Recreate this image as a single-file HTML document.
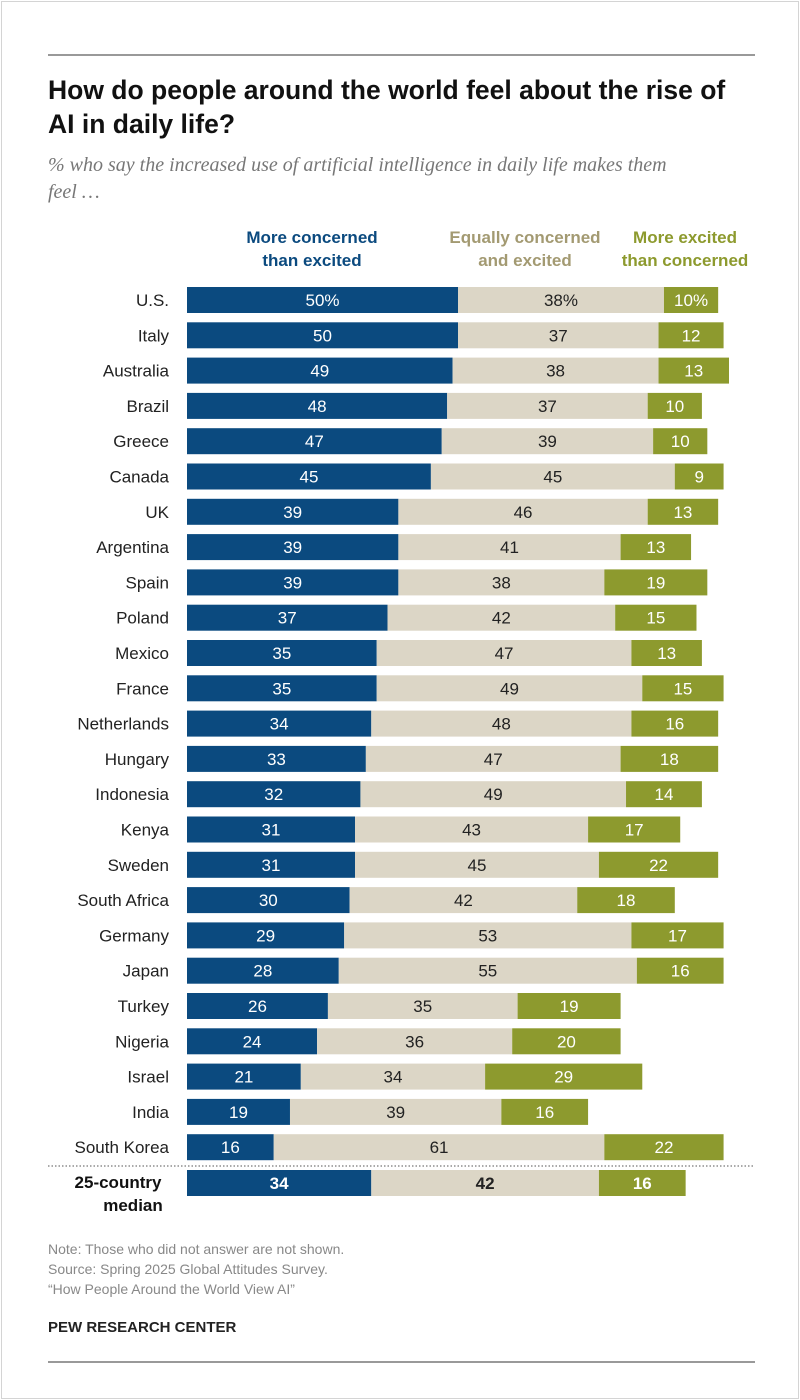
<!DOCTYPE html>
<html><head><meta charset="utf-8"><style>
body{margin:0;width:800px;height:1400px;background:#fff;font-family:"Liberation Sans",sans-serif;position:relative;overflow:hidden}
.frame{position:absolute;left:1px;top:1px;width:796px;height:1396px;border:1px solid #d4d4d4}
.rule{position:absolute;left:48px;width:707px;height:2px;background:#999}
#title{position:absolute;left:48px;top:73px;width:740px;font-weight:bold;font-size:26.5px;line-height:34px;color:#111}
#sub{position:absolute;left:48px;top:152px;width:740px;font-family:"Liberation Serif",serif;font-style:italic;font-size:20px;line-height:27px;color:#777}
.leg{position:absolute;font-weight:bold;font-size:17px;line-height:23px;text-align:center}
.foot{position:absolute;left:48px;font-size:14px;color:#888;line-height:20px}
</style></head><body>
<div class="frame"></div>
<div class="rule" style="top:54px"></div>
<div id="title">How do people around the world feel about the rise of<br>AI in daily life?</div>
<div id="sub">% who say the increased use of artificial intelligence in daily life makes them<br>feel …</div>
<div class="leg" style="left:222px;top:226px;width:180px;color:#0b4a7f">More concerned<br>than excited</div>
<div class="leg" style="left:435px;top:226px;width:180px;color:#a39a72">Equally concerned<br>and excited</div>
<div class="leg" style="left:605px;top:226px;width:160px;color:#8d9a2e">More excited<br>than concerned</div>
<svg id="chart" width="800" height="1400" style="position:absolute;left:0;top:0"></svg>
<div class="foot" style="top:1239px">Note: Those who did not answer are not shown.<br>Source: Spring 2025 Global Attitudes Survey.<br>“How People Around the World View AI”</div>
<div class="foot" style="top:1318px;color:#222;font-weight:bold;font-size:15px">PEW RESEARCH CENTER</div>
<div class="rule" style="top:1361px"></div>
<script>
const countries=["U.S.","Italy","Australia","Brazil","Greece","Canada","UK","Argentina","Spain","Poland","Mexico","France","Netherlands","Hungary","Indonesia","Kenya","Sweden","South Africa","Germany","Japan","Turkey","Nigeria","Israel","India","South Korea"];
const concerned=[50,50,49,48,47,45,39,39,39,37,35,35,34,33,32,31,31,30,29,28,26,24,21,19,16];
const equally=[38,37,38,37,39,45,46,41,38,42,47,49,48,47,49,43,45,42,53,55,35,36,34,39,61];
const excited=[10,12,13,10,10,9,13,13,19,15,13,15,16,18,14,17,22,18,17,16,19,20,29,16,22];
const median=[34,42,16];
const NS="http://www.w3.org/2000/svg",svg=document.getElementById('chart');
const x0=187,sc=5.42;
const xs=v=>x0+v*sc;
const ys=i=>300+i*35.3;
const cols=["#0b4a7f","#dcd6c6","#8d9a2e"],tcols=["#fff","#222","#fff"];
function txt(x,y,s,anchor,fill,bold,name){const t=document.createElementNS(NS,'text');t.setAttribute('x',x);t.setAttribute('y',y);t.setAttribute('text-anchor',anchor);t.setAttribute('fill',fill);t.setAttribute('font-size','17');t.setAttribute('font-family','"Liberation Sans",sans-serif');if(bold)t.setAttribute('font-weight','bold');t.textContent=s;


svg.appendChild(t);return t;}
function row(vals,cy,label,pct,bold,key){
 let acc=0;
 vals.forEach((v,k)=>{const r=document.createElementNS(NS,'rect');r.setAttribute('x',xs(acc));r.setAttribute('y',cy-13);r.setAttribute('width',v*sc);r.setAttribute('height',26);r.setAttribute('fill',cols[k]);
 
 
 svg.appendChild(r);
 txt(xs(acc+v/2),cy+6,v+(pct?'%':''),'middle',tcols[k],bold,'value-'+key+'-'+k);acc+=v;});
}
countries.forEach((c,i)=>{const cy=ys(i);txt(169,cy+6,c,'end','#222',false,'country-label');row([concerned[i],equally[i],excited[i]],cy,c,i===0,false,c.toLowerCase().replace(/\W+/g,'-'));});
const ln=document.createElementNS(NS,'line');ln.setAttribute('x1',48);ln.setAttribute('x2',755);ln.setAttribute('y1',1166);ln.setAttribute('y2',1166);ln.setAttribute('stroke','#555');ln.setAttribute('stroke-dasharray','1.5,2');


svg.appendChild(ln);
txt(118,1188,'25-country','middle','#111',true,'median-label');
txt(133,1211,'median','middle','#111',true,'median-label-2');
row(median,1183,'median',false,true,'median');
</script>
</body></html>
